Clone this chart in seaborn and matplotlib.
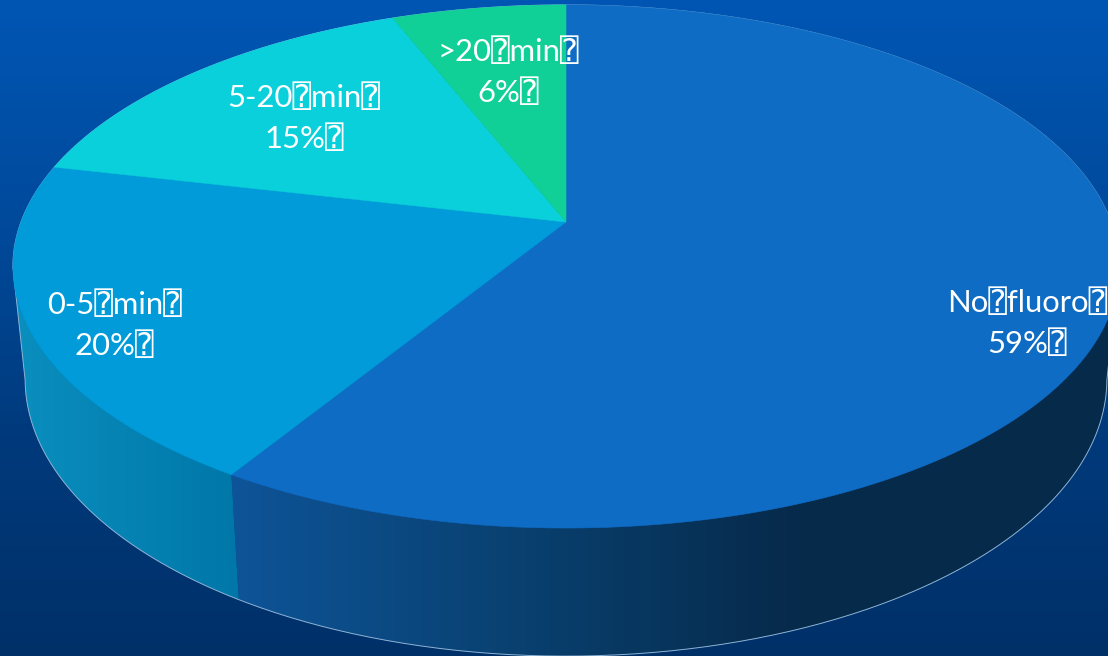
import numpy as np
import matplotlib
matplotlib.use("Agg")
import matplotlib.pyplot as plt
from matplotlib.path import Path
from matplotlib.patches import PathPatch
from matplotlib.colors import LinearSegmentedColormap
import seaborn as sns

categories = ["No fluoro", "0-5 min", "5-20 min", ">20 min"]
values = [58.8, 19.8, 15.4, 6]
label_lines = [["No\u2370fluoro\u2370", "59%\u2370"], ["0-5\u2370min\u2370", "20%\u2370"],
               ["5-20\u2370min\u2370", "15%\u2370"], [">20\u2370min\u2370", "6%\u2370"]]
label_xy = [(1027, 323), (114, 325), (304, 118), (508, 72)]
top_colors = ["#0F6CC4", "#009BD8", "#0AD0DC", "#10D098"]

sns.set_theme(style="white")
plt.rcParams["font.family"] = ["Lato", "DejaVu Sans Mono", "DejaVu Sans"]

W, H = 1108, 656
fig = plt.figure(figsize=(W / 100, H / 100), dpi=100)
ax = fig.add_axes([0, 0, 1, 1])
ax.set_xlim(0, W)
ax.set_ylim(H, 0)
ax.axis("off")

bg = LinearSegmentedColormap.from_list("bg", ["#0056B4", "#004A9C", "#003A7C", "#003068"])
ax.imshow(np.linspace(0, 1, 256)[:, None], extent=(0, W, H, 0), cmap=bg, aspect="auto", zorder=0)

K = 0.17
TOP = dict(cx=566, cy=222, a=545, b=254)
BOT = dict(cx=566, cy=332, a=533, b=269)

def project(theta, g):
    w = 1 + K * np.cos(theta)
    return g["cx"] + g["a"] * np.sin(theta) / w, g["cy"] - g["b"] * np.cos(theta) / w

frac = np.cumsum([0] + values) / sum(values) * 2 * np.pi

def side(t0, t1, stops):
    ts = np.linspace(t0, t1, 200)
    x1, y1 = project(ts, TOP)
    x2, y2 = project(ts[::-1], BOT)
    verts = np.r_[np.c_[x1, y1], np.c_[x2, y2]]
    patch = PathPatch(Path(np.r_[verts, verts[:1]]), fc="none", ec="none", transform=ax.transData)
    ax.add_patch(patch)
    cm = LinearSegmentedColormap.from_list("s", stops)
    lo, hi = verts[:, 0].min(), verts[:, 0].max()
    im = ax.imshow(np.linspace(0, 1, 256)[None, :], extent=(lo, hi, H, 0), cmap=cm, aspect="auto", zorder=2)
    im.set_clip_path(patch)

# visible rim runs from the left silhouette to the right silhouette through the front
t_right = np.deg2rad(100)
t_left = np.deg2rad(260)
side(t_right, frac[1], [(0, "#0E5498"), (0.33, "#09406F"), (0.64, "#062A4A"), (1, "#062A4A")])
side(frac[1], t_left, [(0, "#0A8FBE"), (1, "#0077A8")])
ax.set_xlim(0, W)
ax.set_ylim(H, 0)

# outline of the solid
ts = np.linspace(t_left, t_right + 2 * np.pi, 400)
ax.plot(*project(ts, TOP), color="#7FB4E0", lw=0.7, zorder=2)
ts = np.linspace(t_right, t_left, 300)
xb, yb = project(ts, BOT)
xt, yt = project(np.array([t_right, t_left]), TOP)
ax.plot(np.r_[xt[0], xb, xt[1]], np.r_[yt[0], yb, yt[1]], color="#8FB4D8", lw=0.7, zorder=3)

# top faces, one per value
for i, col in enumerate(top_colors):
    ts = np.linspace(frac[i], frac[i + 1], 300)
    x, y = project(ts, TOP)
    ax.fill(np.r_[TOP["cx"], x], np.r_[TOP["cy"], y], fc=col, ec=col, lw=0.4, zorder=4 + 0.1 * i)

for lines, (x, y) in zip(label_lines, label_xy):
    ax.text(x, y, "\n".join(lines), color="white", fontsize=22.3, ha="center", va="center",
            linespacing=1.5, zorder=5)

fig.savefig("out.png", dpi=100)
